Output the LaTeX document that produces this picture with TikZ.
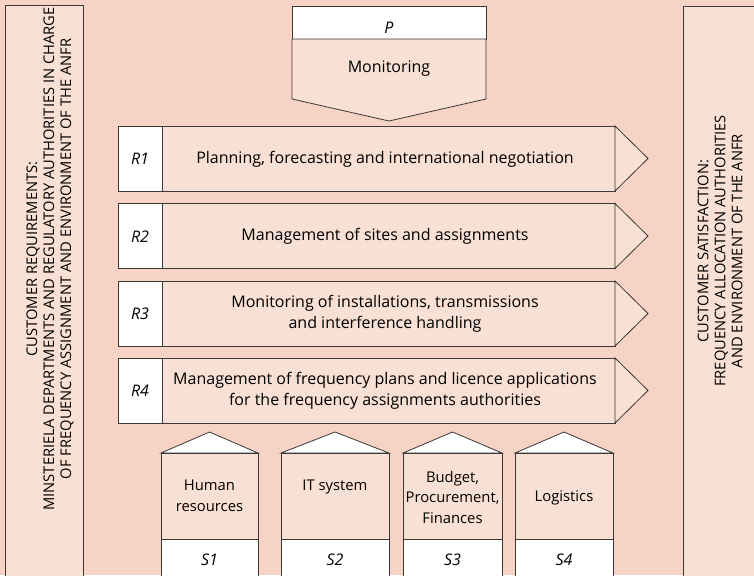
\documentclass[tikz,border=0pt]{standalone}
\usepackage{fontspec}
\setmainfont{Open Sans}
\usetikzlibrary{positioning}
\definecolor{bgpink}{RGB}{246,211,197}
\definecolor{boxpink}{RGB}{249,224,212}
\definecolor{edge}{RGB}{60,56,54}

\begin{document}
\begin{tikzpicture}[x=1pt,y=-1pt,
  outline/.style={draw=edge,line width=0.8pt,line join=miter},
  txt/.style={font=\fontsize{16}{20.5}\selectfont,align=center,inner sep=0pt},
  small txt/.style={txt,font=\fontsize{14.8}{20.5}\selectfont},
  tag/.style={txt,font=\fontsize{16}{20.5}\selectfont\itshape},
  side/.style={font=\fontsize{14.7}{17}\selectfont,align=center,inner sep=0pt,rotate=90}]
\useasboundingbox (0,0) rectangle (754,575);
\fill[bgpink] (0,0) rectangle (754,575);

% customers on both sides
\draw[outline,fill=boxpink] (5,5) rectangle (83,585);
\draw[outline,fill=boxpink] (683,6) rectangle (765,585);
\node[side] (requirements) at (50,259) {CUSTOMER REQUIREMENTS:\\MINSTERIELA DEPARTMENTS AND REGULATORY AUTHORITIES IN CHARGE\\OF FREQUENCY ASSIGNMENT AND ENVIRONMENT OF THE ANFR};
\node[side] (satisfaction) at (720,251) {CUSTOMER SATISFACTION:\\FREQUENCY ALLOCATION AUTHORITIES\\AND ENVIRONMENT OF THE ANFR};

% steering process
\draw[outline,fill=white] (292,6) rectangle (486,39);
\draw[outline,fill=boxpink] (292,39) -- (486,39) -- (486,99) -- (389,121) -- (292,99) -- cycle;
\node[tag] (P) at (389,28) {P};
\node[txt] (monitoring) at (389,69) {Monitoring};

% core processes
\foreach \y/\tag/\text in {126/R1/{Planning, forecasting and international negotiation},
                           203.5/R2/{Management of sites and assignments},
                           281/R3/{Monitoring of installations, transmissions\\and interference handling},
                           358/R4/{Management of frequency plans and licence applications\\for the frequency assignments authorities}} {
  \draw[outline,fill=white] (118,\y) rectangle (162,\y+65);
  \draw[outline,fill=boxpink] (162,\y) rectangle (615,\y+65);
  \draw[outline,fill=boxpink] (615,\y) -- (648,\y+32.5) -- (615,\y+65) -- cycle;
  \node[tag] (\tag) at (140,\y+33) {\tag};
  \node[txt] (\tag-text) at (385,\y+33) {\text};
}

% support processes
\foreach \xa/\xb/\tag/\text/\ty in {161/258/S1/{Human\\resources}/496,
                                   281/389/S2/{IT system}/487,
                                   403/502/S3/{Budget,\\Procurement,\\Finances}/497,
                                   515/613/S4/{Logistics}/498} {
  \draw[outline,fill=white] (\xa,453) -- ({(\xa+\xb)/2},432) -- (\xb,453) -- cycle;
  \draw[outline,fill=boxpink] (\xa,453) rectangle (\xb,539);
  \draw[outline,fill=white] (\xa,539) rectangle (\xb,585);
  \node[small txt] (\tag-text) at ({(\xa+\xb)/2},\ty) {\text};
  \node[tag] (\tag) at ({(\xa+\xb)/2},560) {\tag};
}
\end{tikzpicture}
\end{document}
